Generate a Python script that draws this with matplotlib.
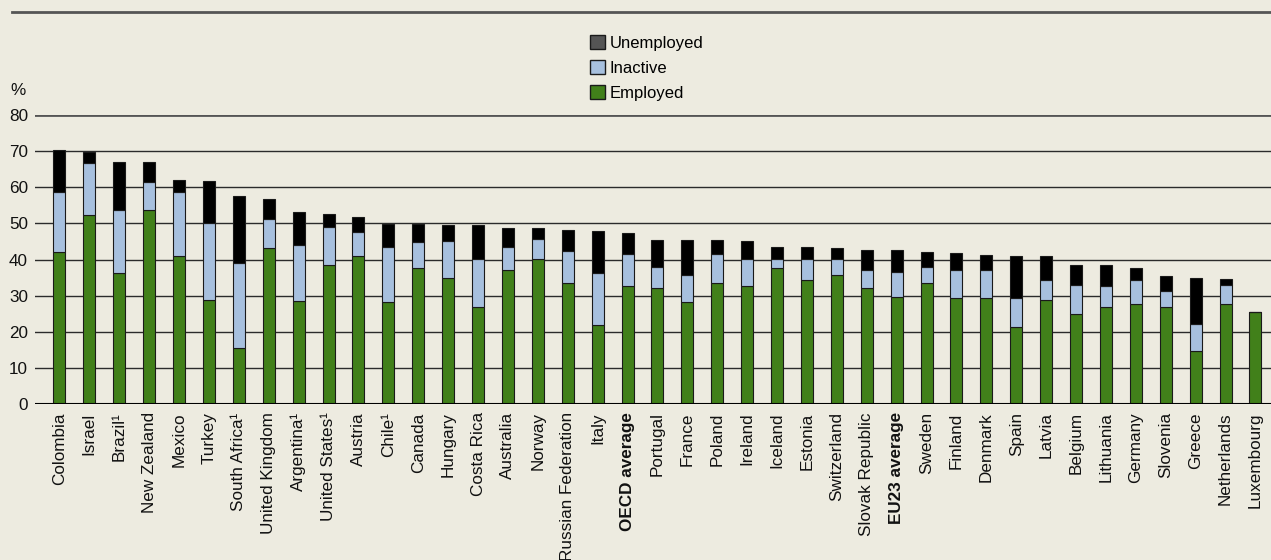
import matplotlib
matplotlib.use("Agg")
import matplotlib.pyplot as plt
from matplotlib.patches import Patch
import numpy as np

plt.rcParams['font.family'] = ['Liberation Sans', 'DejaVu Sans']

countries = ["Colombia", "Israel", "Brazil¹", "New Zealand", "Mexico", "Turkey",
             "South Africa¹", "United Kingdom", "Argentina¹", "United States¹",
             "Austria", "Chile¹", "Canada", "Hungary", "Costa Rica", "Australia",
             "Norway", "Russian Federation", "Italy", "OECD average", "Portugal",
             "France", "Poland", "Ireland", "Iceland", "Estonia", "Switzerland",
             "Slovak Republic", "EU23 average", "Sweden", "Finland", "Denmark",
             "Spain", "Latvia", "Belgium", "Lithuania", "Germany", "Slovenia",
             "Greece", "Netherlands", "Luxembourg"]

# cumulative tops
employed = [42.0, 52.2, 36.4, 53.7, 40.9, 28.9, 15.5, 43.2, 28.6, 38.6,
            40.9, 28.1, 37.7, 35.0, 26.8, 37.2, 40.2, 33.6, 21.8, 32.8, 32.2,
            28.1, 33.6, 32.8, 37.6, 34.4, 35.7, 32.2, 29.6, 33.6, 29.4, 29.4,
            21.4, 28.9, 25.0, 26.8, 27.7, 26.8, 14.6, 27.7, 25.4]
inactive_top = [58.8, 66.6, 53.8, 61.5, 58.8, 50.2, 38.9, 51.1, 43.9, 48.9,
                47.5, 43.4, 44.8, 45.1, 40.1, 43.4, 45.7, 42.4, 36.2, 41.5, 38.0,
                35.7, 41.5, 40.1, 40.1, 40.1, 40.1, 37.0, 36.5, 38.0, 37.0, 37.0,
                29.4, 34.3, 33.0, 32.6, 34.3, 31.2, 22.2, 33.0, 25.4]
total = [70.4, 69.9, 67.1, 67.1, 62.1, 61.7, 57.6, 56.7, 53.2, 52.6,
         51.7, 49.9, 49.9, 49.6, 49.6, 48.6, 48.6, 48.1, 47.8, 47.2, 45.4,
         45.4, 45.4, 45.1, 43.6, 43.6, 43.2, 42.7, 42.7, 42.2, 41.8, 41.2,
         40.9, 40.9, 38.5, 38.5, 37.7, 35.5, 35.0, 34.5, 25.4]

bold_labels = ["OECD average", "EU23 average"]

bg = "#edebe0"
c_emp = "#41801a"
c_ina = "#a7c0de"
c_une = "#000000"

employed = np.array(employed)
inactive = np.array(inactive_top) - employed
unemployed = np.array(total) - np.array(inactive_top)

fig = plt.figure(figsize=(12.71, 5.6), dpi=100, facecolor=bg)
ax = fig.add_axes([0.0275, 0.2786, 0.9725, 0.516])
ax.set_facecolor(bg)

x = np.arange(len(countries))
w = 0.4
kw = dict(width=w, edgecolor="#1a1a1a", linewidth=0.8, zorder=3)
ax.bar(x, employed, color=c_emp, **kw)
ax.bar(x, inactive, bottom=employed, color=c_ina, **kw)
ax.bar(x, unemployed, bottom=employed + inactive, color=c_une, **kw)

ax.set_xlim(-0.82, 40.52)
ax.set_ylim(0, 80)
ax.set_yticks(np.arange(0, 81, 10))
for v in range(10, 80, 10):
    ax.axhline(v, color="#2b2b2b", linewidth=1.0, zorder=1)
ax.axhline(80, color="#555555", linewidth=2.0, zorder=1)
ax.axhline(0, color="#000000", linewidth=1.5, zorder=4)

for s in ax.spines.values():
    s.set_visible(False)
ax.tick_params(axis="both", length=0, labelsize=12.3, colors="#111111")
ax.tick_params(axis="y", pad=5)
ax.tick_params(axis="x", pad=6)
ax.set_xticks(x)
ax.set_xticklabels(countries, rotation=90, va="top", ha="center")
for lbl in ax.get_xticklabels():
    if lbl.get_text() in bold_labels:
        lbl.set_fontweight("bold")

fig.text(0.0145, 0.838, "%", fontsize=12.3, color="#111111", ha="center", va="center")

# top rule
fig.add_artist(plt.Line2D([0.0095, 1.0], [0.978, 0.978], color="#555555", linewidth=2.0))

handles = [Patch(facecolor="#555555", edgecolor="#1a1a1a", label="Unemployed"),
           Patch(facecolor=c_ina, edgecolor="#1a1a1a", label="Inactive"),
           Patch(facecolor=c_emp, edgecolor="#1a1a1a", label="Employed")]
fig.legend(handles=handles, loc="upper left", bbox_to_anchor=(0.464, 0.937),
           frameon=False, fontsize=12, handlelength=0.9, handleheight=0.9,
           handletextpad=0.3, labelspacing=0.55, borderaxespad=0, borderpad=0)

fig.savefig("out.png", dpi=100, facecolor=bg)
